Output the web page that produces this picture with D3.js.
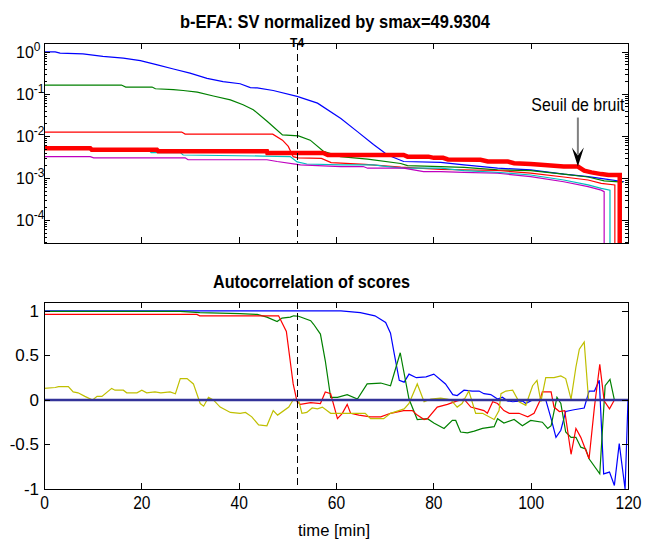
<!DOCTYPE html>
<html>
<head>
<meta charset="utf-8">
<script src="https://cdn.jsdelivr.net/npm/d3@7"></script>
<style>
body { margin: 0; background: #fff; }
svg text { font-family: "Liberation Sans", Arial, Helvetica, sans-serif; }
</style>
</head>
<body>
<svg id="chart" width="646" height="543"></svg>
<script>
// tick values / labels
var xTicks = [0, 20, 40, 60, 80, 100, 120];
var svDecades = [0, -1, -2, -3, -4];
var acTicks = [-1, -0.5, 0, 0.5, 1];
var acTickLabels = ["-1", "-0.5", "0", "0.5", "1"];
var smax = "49.9304";
var tEvent = 52;           // T4 marker
var seuilPoint = [109.7, 0.00186];

// singular values normalized by smax  [time (min), value]
// 1e-16 = value falls to zero at the end of the window
var svBlue = [[0,1.0],[2.3,1.0],[3.3,0.93],[8,0.89],[12.1,0.78],[16.3,0.71],[19.8,0.62],[23.3,0.49],[26.6,0.39],[30,0.31],[33.5,0.234],[36.8,0.195],[40.3,0.174],[42.4,0.141],[43.8,0.138],[47.1,0.120],[52,0.087],[56.2,0.060],[61,0.026],[64.4,0.0126],[67.7,0.0062],[70.6,0.0035],[73.9,0.00245],[81.5,0.00234],[86.3,0.00204],[93.2,0.0017],[100,0.00155],[106.8,0.00123],[111.8,0.00107],[115.1,0.00095],[119.2,0.00081]];
var svGreen = [[0,0.162],[15.9,0.162],[16.8,0.145],[22.2,0.145],[22.9,0.132],[26.6,0.126],[28.6,0.120],[31.5,0.110],[34.8,0.089],[38.3,0.072],[40.9,0.055],[43,0.042],[45.9,0.022],[49,0.0105],[52.3,0.0100],[54.7,0.0079],[57.4,0.0043],[60.9,0.0032],[66.5,0.0028],[73.3,0.0022],[74.7,0.00195],[81.5,0.00186],[86.3,0.00178],[93.2,0.00155],[100,0.00148],[106.8,0.00123],[111.8,0.00105],[115.1,0.00085],[119,0.00079]];
var svRed = [[0,0.0123],[28.3,0.0123],[29,0.011],[47,0.011],[49,0.0079],[50.2,0.0056],[51.2,0.0032],[52.2,0.0030],[57,0.0029],[59,0.0023],[66,0.0021],[73.3,0.0018],[81.5,0.0016],[93.2,0.0015],[100,0.0013],[106.8,0.00105],[111.8,0.00089],[114.5,0.00074],[117.3,0.00068],[117.3,1e-16]];
var svCyan = [[0,0.0051],[9.5,0.0051],[9.8,0.0047],[21.5,0.0047],[22,0.0040],[28,0.0040],[28.6,0.0035],[45,0.0033],[50.6,0.0032],[52,0.0024],[54,0.00214],[61,0.00204],[67.7,0.00204],[70.6,0.00186],[73.9,0.0017],[81.5,0.0017],[86.3,0.00148],[93.2,0.00135],[100,0.00117],[106.8,0.00089],[111.8,0.00068],[114.5,0.00056],[116.3,0.00051],[116.3,1e-16]];
var svMagenta = [[0,0.0032],[9.5,0.0032],[10.2,0.0030],[29,0.0030],[29.6,0.0027],[45.8,0.0027],[47.9,0.00245],[52.7,0.00204],[61,0.00186],[65.6,0.00186],[66.5,0.0017],[73.9,0.0017],[78,0.00141],[81.5,0.00141],[86.3,0.00135],[93.2,0.00129],[100,0.00107],[106.8,0.00081],[111.8,0.00062],[114.5,0.00051],[115.1,0.00047],[115.1,1e-16]];
// noise threshold (thick red)
var svNoise = [[0,0.0051],[9.5,0.0051],[9.8,0.0047],[23.2,0.0047],[23.5,0.0043],[45.8,0.0043],[45.9,0.0039],[57.4,0.0039],[58.3,0.0035],[73.9,0.0035],[74.7,0.0032],[79,0.0032],[80.1,0.0030],[82,0.0030],[83,0.00275],[89.7,0.0027],[91.2,0.00245],[95.3,0.00245],[96.6,0.00224],[100,0.00214],[102.1,0.00204],[106.8,0.00186],[109.7,0.00186],[111,0.00148],[112.5,0.00135],[114.5,0.00123],[116,0.00117],[118.3,0.00117],[118.3,1e-16]];

// autocorrelation of scores  [time (min), value]
var acBlue = [[0,1.0],[61,1.0],[65,0.98],[68,0.945],[70.2,0.87],[71.2,0.75],[72,0.51],[73,0.22],[74,0.20],[75,0.29],[76.5,0.25],[78.5,0.26],[80.1,0.29],[82.5,0.18],[84,0.06],[84.9,0.05],[86.3,0.11],[88,0.10],[89.4,0.10],[90.4,0.07],[91.8,0.06],[93.2,0.01],[94.2,0.03],[95.2,-0.01],[96.3,-0.02],[98.3,-0.01],[99,-0.04],[100.4,0.0],[101.8,0.0],[103.1,0.0],[104.2,-0.21],[105.2,-0.42],[106.2,-0.34],[107.2,-0.13],[108.9,-0.11],[111,-0.09],[112,0.10],[113.1,0.10],[114.1,0.22],[115,-0.83],[116.2,-0.81],[117.2,-0.96],[118.2,-0.49],[119.4,-1.0],[120,0.0]];
var acGreen = [[0,0.995],[28,0.995],[32,0.98],[40.3,0.97],[43.8,0.96],[45.8,0.93],[47.9,0.88],[48.9,0.92],[50.6,0.93],[51.3,0.945],[52.3,0.94],[54.8,0.89],[55.4,0.85],[56.8,0.74],[57.8,0.44],[58.9,0.03],[60.3,0.03],[62.3,0.06],[64.4,0.01],[66.4,0.18],[69.2,0.19],[71.2,0.16],[73.2,0.53],[75,0.01],[76.7,-0.22],[78.8,-0.21],[80.1,-0.26],[82.2,-0.32],[83.9,-0.23],[84.6,-0.23],[85.6,-0.36],[87,-0.37],[88.4,-0.35],[90.1,-0.32],[92.5,-0.30],[93.2,-0.21],[94.5,-0.26],[96.6,-0.22],[98.3,-0.29],[100,-0.23],[102.4,-0.25],[103.5,-0.32],[104.2,-0.29],[105.4,0.03],[106.2,-0.04],[107.2,-0.36],[108.3,-0.42],[109.3,-0.42],[110.3,-0.53],[111.3,-0.55],[112,-0.66],[114.2,-0.83],[115.3,0.16],[116.3,0.23],[117.2,0.0]];
var acRed = [[0,0.96],[31.4,0.96],[32,0.945],[48.2,0.945],[49.8,0.77],[51.2,0.18],[52,-0.02],[52.7,-0.05],[54.8,-0.03],[56.8,-0.04],[57.8,0.09],[58.9,0.07],[60.3,-0.21],[61.3,-0.15],[62.3,-0.05],[63,-0.15],[64.7,-0.17],[67.1,-0.19],[69.2,-0.19],[71.2,-0.15],[73.9,-0.12],[75.7,-0.12],[76.7,-0.17],[78.1,-0.22],[78.8,-0.21],[80.8,-0.08],[82.9,-0.05],[84.9,-0.01],[86.3,0.01],[87.7,-0.08],[89.1,-0.10],[90.4,-0.12],[91.1,-0.15],[92.2,-0.02],[93.2,-0.04],[94.5,-0.12],[95.6,-0.15],[97.6,-0.15],[99.4,-0.19],[100.7,-0.15],[101.8,-0.02],[102.4,0.09],[104.2,0.09],[104.8,-0.08],[105.9,-0.13],[107,-0.12],[108.3,-0.61],[109.3,-0.32],[110.3,-0.42],[112,-0.66],[113.1,-0.08],[114.2,0.40],[115.1,-0.01],[116.2,-0.10],[117.2,0.0]];
var acYellow = [[0,0.13],[2.3,0.14],[3,0.15],[5,0.15],[6,0.09],[7,0.08],[8.4,0.04],[10,0.0],[10.9,0.04],[11.9,0.04],[13.9,0.13],[14.6,0.11],[16.3,0.11],[17,0.08],[19.1,0.08],[20.1,0.11],[21.1,0.08],[22.8,0.09],[24,0.08],[25.9,0.09],[27,0.07],[28,0.24],[29.4,0.24],[30.7,0.18],[32.1,-0.04],[32.8,-0.07],[33.8,0.03],[34.8,0.0],[36.2,-0.08],[38.3,-0.14],[40.3,-0.15],[41.4,-0.14],[42.7,-0.19],[44.1,-0.28],[45.8,-0.29],[47.1,-0.12],[48,-0.17],[50.3,-0.08],[51.3,0.01],[52.3,0.0],[53,-0.15],[54,-0.14],[55.1,-0.09],[56.2,-0.10],[57.2,-0.08],[58.9,-0.15],[64.4,-0.15],[66,-0.15],[67.1,-0.21],[69.8,-0.21],[71.2,-0.15],[74,-0.10],[75,-0.04],[76.7,0.18],[78.1,-0.02],[79.5,0.01],[81.5,0.02],[82.8,0.01],[83.6,0.0],[84.9,-0.08],[85.9,-0.04],[87.3,0.10],[88.7,-0.15],[90.1,-0.15],[92.5,-0.22],[93.5,-0.12],[93.9,0.07],[94.9,0.10],[96.3,0.11],[97.6,-0.02],[99,-0.06],[100.4,0.16],[101.3,0.22],[102.1,-0.02],[103.1,0.25],[104.8,0.25],[106.2,0.27],[107.2,0.24],[108.3,0.01],[109.3,0.37],[110,0.57],[111,0.65],[111.9,0.0]];

var svg = d3.select("#chart");

// layout
var left = 44, right = 628;
var top1 = 43, bot1 = 243;
var top2 = 302, bot2 = 489;

var x = d3.scaleLinear().domain([0, 120]).range([left, right]);
var y1 = d3.scaleLog().domain([Math.pow(10, -4.55), Math.pow(10, 0.21)]).range([bot1, top1]);
var y2 = d3.scaleLinear().domain([-1, 1.1]).range([bot2, top2]);

// squeeze text horizontally (the reference font is narrow)
function squeeze(sel, k) {
  sel.each(function() {
    var w = this.getComputedTextLength();
    d3.select(this).attr("textLength", w * k).attr("lengthAdjust", "spacingAndGlyphs");
  });
}

var defs = svg.append("defs");
defs.append("clipPath").attr("id", "clip1").append("rect")
  .attr("x", left).attr("y", top1).attr("width", right - left).attr("height", bot1 - top1);
defs.append("clipPath").attr("id", "clip2").append("rect")
  .attr("x", left).attr("y", top2).attr("width", right - left).attr("height", bot2 - top2);

function frame(yScale, yTop, yBot, majors, minors) {
  var g = svg.append("g").attr("shape-rendering", "crispEdges");
  g.append("g").attr("transform", "translate(0," + yBot + ")")
    .call(d3.axisBottom(x).tickValues(xTicks).tickSize(-6).tickFormat(""));
  g.append("g").attr("transform", "translate(0," + yTop + ")")
    .call(d3.axisTop(x).tickValues(xTicks).tickSize(-6).tickFormat(""));
  g.append("g").attr("class", "yl").attr("transform", "translate(" + left + ",0)")
    .call(d3.axisLeft(yScale).tickValues(majors).tickSize(-6).tickFormat(""));
  g.append("g").attr("transform", "translate(" + right + ",0)")
    .call(d3.axisRight(yScale).tickValues(majors).tickSize(-6).tickFormat(""));
  if (minors) {
    g.append("g").attr("transform", "translate(" + left + ",0)")
      .call(d3.axisLeft(yScale).tickValues(minors).tickSize(-3).tickFormat(""));
    g.append("g").attr("transform", "translate(" + right + ",0)")
      .call(d3.axisRight(yScale).tickValues(minors).tickSize(-3).tickFormat(""));
  }
  g.selectAll(".domain").remove();
  g.selectAll(".tick line").attr("stroke", "#000");
  g.append("rect").attr("x", left).attr("y", yTop).attr("width", right - left).attr("height", yBot - yTop)
    .attr("fill", "none").attr("stroke", "#000").attr("stroke-width", 1);
  return g;
}

// ---------- top: singular values ----------
var svMajors = svDecades.map(function(e) { return Math.pow(10, e); });
var svMinors = [];
d3.range(-5, 1).forEach(function(e) {
  d3.range(2, 10).forEach(function(k) {
    var v = k * Math.pow(10, e);
    if (v > y1.domain()[0] && v < y1.domain()[1]) svMinors.push(v);
  });
});

var line1 = d3.line().x(function(d) { return x(d[0]); }).y(function(d) { return y1(d[1]); });
var plot1 = svg.append("g").attr("clip-path", "url(#clip1)");
[[svBlue, "#0000ff"], [svGreen, "#008000"], [svRed, "#ff0000"], [svCyan, "#00bfbf"], [svMagenta, "#bf00bf"]]
  .forEach(function(s) {
    plot1.append("path").datum(s[0]).attr("d", line1)
      .attr("fill", "none").attr("stroke", s[1]).attr("stroke-width", 1.2);
  });
plot1.append("path").datum(svNoise).attr("d", line1)
  .attr("fill", "none").attr("stroke", "#ff0000").attr("stroke-width", 4.5);

frame(y1, top1, bot1, svMajors, svMinors);

// log labels 10^n
var lab1 = svg.append("g");
svDecades.forEach(function(e) {
  var yy = y1(Math.pow(10, e));
  var t = lab1.append("text").attr("x", 16).attr("y", yy + 6)
    .attr("font-size", 16).attr("fill", "#000").text("10");
  t.append("tspan").attr("dy", -7).attr("font-size", 12).text(String(e));
});

// T4 marker
svg.append("line").attr("x1", x(tEvent)).attr("x2", x(tEvent)).attr("y1", top1).attr("y2", bot1)
  .attr("stroke", "#000").attr("stroke-width", 1).attr("stroke-dasharray", "7,4")
  .attr("shape-rendering", "crispEdges");
svg.append("text").attr("x", x(tEvent)).attr("y", 47).attr("text-anchor", "middle")
  .attr("font-size", 12).attr("font-weight", "bold").text("T4");

// noise threshold annotation
var ax = x(seuilPoint[0]), ay = y1(seuilPoint[1]);
svg.append("line").attr("x1", ax).attr("x2", ax).attr("y1", ay - 49).attr("y2", ay - 12)
  .attr("stroke", "#808080").attr("stroke-width", 2);
svg.append("path")
  .attr("d", "M" + ax + "," + ay + "L" + (ax - 6) + "," + (ay - 19) + "L" + ax + "," + (ay - 11) +
             "L" + (ax + 6) + "," + (ay - 19) + "Z")
  .attr("fill", "#000");
svg.append("text").attr("x", ax).attr("y", ay - 56).attr("text-anchor", "middle")
  .attr("font-size", 18).attr("textLength", 93).attr("lengthAdjust", "spacingAndGlyphs")
  .text("Seuil de bruit");

svg.append("text").attr("x", 180).attr("y", 28).attr("font-size", 18).attr("font-weight", "bold")
  .attr("textLength", 310).attr("lengthAdjust", "spacingAndGlyphs")
  .text("b-EFA: SV normalized by smax=" + smax);

// ---------- bottom: autocorrelation ----------
var line2 = d3.line().x(function(d) { return x(d[0]); }).y(function(d) { return y2(d[1]); });
var plot2 = svg.append("g").attr("clip-path", "url(#clip2)");
[[acBlue, "#0000ff"], [acGreen, "#008000"], [acRed, "#ff0000"], [acYellow, "#bfbf00"]]
  .forEach(function(s) {
    plot2.append("path").datum(s[0]).attr("d", line2)
      .attr("fill", "none").attr("stroke", s[1]).attr("stroke-width", 1.2);
  });
plot2.append("line").attr("x1", x(0)).attr("x2", x(120)).attr("y1", y2(0)).attr("y2", y2(0))
  .attr("stroke", "#333399").attr("stroke-width", 2.5);

var f2 = frame(y2, top2, bot2, acTicks, null);
f2.select(".yl").selectAll(".tick text")
  .attr("font-size", 17).attr("font-family", "Liberation Sans, Arial, sans-serif").attr("fill", "#000")
  .attr("x", -5).text(function(d) { return acTickLabels[acTicks.indexOf(d)]; });

// x tick labels
var xl = svg.append("g").attr("transform", "translate(0," + bot2 + ")")
  .call(d3.axisBottom(x).tickValues(xTicks).tickSize(0).tickPadding(7));
xl.select(".domain").remove();
xl.selectAll("text").attr("font-size", 19).attr("fill", "#000")
  .attr("font-family", "Liberation Sans, Arial, sans-serif");
squeeze(xl.selectAll("text"), 0.82);

svg.append("line").attr("x1", x(tEvent)).attr("x2", x(tEvent)).attr("y1", top2).attr("y2", bot2)
  .attr("stroke", "#000").attr("stroke-width", 1).attr("stroke-dasharray", "7,4")
  .attr("shape-rendering", "crispEdges");

svg.append("text").attr("x", 213).attr("y", 288).attr("font-size", 18).attr("font-weight", "bold")
  .attr("textLength", 197).attr("lengthAdjust", "spacingAndGlyphs")
  .text("Autocorrelation of scores");

svg.append("text").attr("x", 298).attr("y", 536).attr("font-size", 17)
  .attr("textLength", 72).attr("lengthAdjust", "spacingAndGlyphs")
  .text("time [min]");
</script>
</body>
</html>
